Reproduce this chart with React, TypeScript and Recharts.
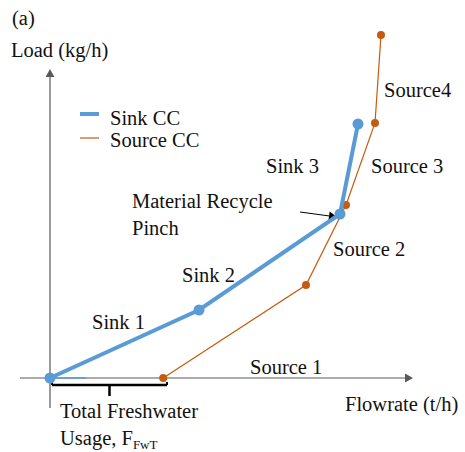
import React from 'react';
import {
  ComposedChart,
  Scatter,
  XAxis,
  YAxis,
  ReferenceLine,
  ReferenceDot,
  Legend,
} from 'recharts';

const BLUE = '#5B9BD5';
const ORANGE = '#C55A11';
const AXIS = '#595959';
const FONT = '"Liberation Serif", "Times New Roman", serif';
const FS = 20.5;

// composite curves (flowrate, load)
const sinkFlow = [0, 37.25, 72.5, 77];
const sinkLoad = [0, 17, 41, 63.5];
const sourceFlow = [28.3, 64, 74, 81.25, 82.75];
const sourceLoad = [0, 23.25, 43.25, 63.75, 85.75];

const sinkData = sinkFlow.map((flow, i) => ({ flow, load: sinkLoad[i] }));
const sourceData = sourceFlow.map((flow, i) => ({ flow, load: sourceLoad[i] }));

// text annotations placed in data coordinates
const notes: { text: string; x: number; y: number }[] = [
  { text: '(a)', x: -9.5, y: 88.25 },
  { text: 'Load (kg/h)', x: -9.75, y: 80.25 },
  { text: 'Sink 1', x: 10.5, y: 12.25 },
  { text: 'Sink 2', x: 33, y: 24 },
  { text: 'Sink 3', x: 54, y: 51.25 },
  { text: 'Source 1', x: 50, y: 1 },
  { text: 'Source 2', x: 70.75, y: 30.5 },
  { text: 'Source 3', x: 80.25, y: 51.25 },
  { text: 'Source4', x: 83.5, y: 70.25 },
  { text: 'Material Recycle', x: 20.5, y: 42.5 },
  { text: 'Pinch', x: 20.5, y: 35.75 },
  { text: 'Flowrate (t/h)', x: 73.75, y: -8.25 },
  { text: 'Total Freshwater', x: 2.5, y: -10 },
];

// bracket under the freshwater gap
const bracketLeft = 0.5;
const bracketRight = 29.25;
const bracketY = -1.75;
const bracketTickY = -4.5;

function arrowShape(color: string, width: number, head: number) {
  return (p: any) => {
    const { x1, y1, x2, y2 } = p;
    const dx = x2 - x1;
    const dy = y2 - y1;
    const len = Math.sqrt(dx * dx + dy * dy) || 1;
    const ux = dx / len;
    const uy = dy / len;
    const bx = x2 - ux * head;
    const by = y2 - uy * head;
    const hw = head * 0.55;
    return (
      <g>
        <line x1={x1} y1={y1} x2={bx} y2={by} stroke={color} strokeWidth={width} />
        <polygon
          points={`${x2},${y2} ${bx - uy * hw},${by + ux * hw} ${bx + uy * hw},${by - ux * hw}`}
          fill={color}
        />
      </g>
    );
  };
}

function LegendBox() {
  return (
    <svg width={140} height={52} style={{ fontFamily: FONT }}>
      <line x1={2} y1={14} x2={21} y2={14} stroke={BLUE} strokeWidth={4} />
      <line x1={2} y1={38} x2={21} y2={38} stroke={ORANGE} strokeWidth={1.2} />
      <text x={32} y={25} style={{ fontFamily: FONT, fontSize: FS }} fill="#111">Sink CC</text>
      <text x={32} y={47} style={{ fontFamily: FONT, fontSize: FS }} fill="#111">Source CC</text>
    </svg>
  );
}

export default function App() {
  return (
    <div style={{ position: 'absolute', left: 0, top: 0, background: '#fff' }}>
      <ComposedChart
        width={465}
        height={452}
        margin={{ top: 10, right: 15, bottom: 2, left: 10 }}
      >
        <XAxis type="number" dataKey="flow" domain={[-10, 100]} hide allowDataOverflow />
        <YAxis type="number" dataKey="load" domain={[-18, 92]} hide allowDataOverflow />

        {/* axes with arrow heads */}
        <ReferenceLine
          segment={[{ x: -7.5, y: 0 }, { x: 90.75, y: 0 }]}
          ifOverflow="visible"
          shape={arrowShape(AXIS, 1.2, 8)}
        />
        <ReferenceLine
          segment={[{ x: 0, y: -7.5 }, { x: 0, y: 77.25 }]}
          ifOverflow="visible"
          shape={arrowShape(AXIS, 1.2, 8)}
        />
        <ReferenceLine
          segment={[{ x: 0, y: 0 }, { x: 9, y: 0 }]}
          ifOverflow="visible"
          stroke={BLUE}
          strokeWidth={1.5}
        />

        {/* freshwater bracket */}
        <ReferenceLine
          segment={[{ x: bracketLeft, y: bracketY }, { x: bracketRight, y: bracketY }]}
          ifOverflow="visible"
          stroke="#000"
          strokeWidth={2.5}
        />
        <ReferenceLine
          segment={[{ x: bracketLeft, y: bracketY }, { x: bracketLeft, y: -1 }]}
          ifOverflow="visible"
          stroke="#000"
          strokeWidth={2}
        />
        <ReferenceLine
          segment={[{ x: bracketRight, y: bracketY }, { x: bracketRight, y: -1 }]}
          ifOverflow="visible"
          stroke="#000"
          strokeWidth={2}
        />
        <ReferenceLine
          segment={[
            { x: (bracketLeft + bracketRight) / 2, y: bracketY },
            { x: (bracketLeft + bracketRight) / 2, y: bracketTickY },
          ]}
          ifOverflow="visible"
          stroke="#000"
          strokeWidth={2.5}
        />

        {/* pinch pointer */}
        <ReferenceLine
          segment={[{ x: 62.5, y: 41.5 }, { x: 71.75, y: 40.25 }]}
          ifOverflow="visible"
          shape={arrowShape('#000', 1, 8)}
        />

        <Scatter
          data={sourceData}
          line={{ stroke: ORANGE, strokeWidth: 1.2 }}
          isAnimationActive={false}
          shape={(p: any) => <circle cx={p.cx} cy={p.cy} r={4} fill={ORANGE} />}
        />
        <Scatter
          data={sinkData}
          line={{ stroke: BLUE, strokeWidth: 4 }}
          isAnimationActive={false}
          shape={(p: any) => <circle cx={p.cx} cy={p.cy} r={5.5} fill={BLUE} />}
        />

        {notes.map((n) => (
          <ReferenceDot
            key={n.text}
            x={n.x}
            y={n.y}
            r={0}
            ifOverflow="visible"
            shape={(p: any) => (
              <text x={p.cx} y={p.cy} fontFamily={FONT} fontSize={FS} fill="#111">
                {n.text}
              </text>
            )}
          />
        ))}
        <ReferenceDot
          x={2.5}
          y={-16.75}
          r={0}
          ifOverflow="visible"
          shape={(p: any) => (
            <text x={p.cx} y={p.cy} fontFamily={FONT} fontSize={FS} fill="#111">
              Usage, F
              <tspan fontSize={13} dy={4}>FwT</tspan>
            </text>
          )}
        />

        <Legend
          layout="vertical"
          align="center"
          verticalAlign="middle"
          wrapperStyle={{ left: 78, top: 100, width: 140, height: 52 }}
          content={() => <LegendBox />}
        />
      </ComposedChart>
    </div>
  );
}
